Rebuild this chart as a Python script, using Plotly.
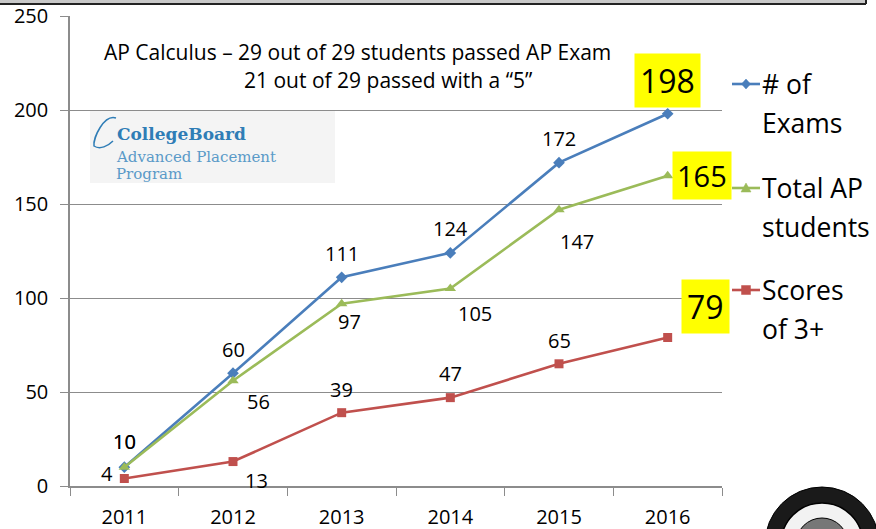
import plotly.graph_objects as go

years = ["2011", "2012", "2013", "2014", "2015", "2016"]
exams = [10, 60, 111, 124, 172, 198]
students = [10, 56, 97, 105, 147, 165]
scores = [4, 13, 39, 47, 65, 79]
series_names = [["# of", "Exams"], ["Total AP", "students"], ["Scores", "of 3+"]]
title_lines = ["AP Calculus \u2013 29 out of 29 students passed AP Exam",
               "21 out of 29 passed with a \u201c5\u201d"]

FONT = "Open Sans"
BLUE, GREEN, RED = "#4A7EBB", "#9BBB59", "#C0504D"
GRID = "#8C8C8C"

# geometry of the plot area in pixels
W, H = 876, 529
L, R, T, B = 70, 722, 16, 486
def px(x):
    return (x - L) / (R - L)
def py(y):
    return (B - y) / (B - T)

fig = go.Figure()
specs = [
    (exams, BLUE, "diamond", 9),
    (students, GREEN, "triangle-up", 10),
    (scores, RED, "square", 9),
]
for i, (vals, col, sym, ms) in enumerate(specs):
    fig.add_trace(go.Scatter(
        x=years, y=vals, name=" ".join(series_names[i]), mode="lines+markers",
        line=dict(color=col, width=2.6),
        marker=dict(symbol=sym, size=ms, color=col),
        showlegend=False, hoverinfo="skip",
    ))

# label offsets (style): (dx, dy) in px, dy positive = up
exam_off = [(0, 26), (0, 24), (0, 24), (0, 24), (0, 24), (0, 33)]
stud_off = [(0, 26), (25, -21), (8, -18), (25, -25), (18, -32), (34, 0)]
score_off = [(-17, 5), (23, -19), (0, 23), (0, 24), (0, 23), (38, 31)]
last_sizes = [32, 29, 32]   # highlighted final-year labels per series

anns = []
for s, (vals, offs) in enumerate([(exams, exam_off), (students, stud_off), (scores, score_off)]):
    for j, (v, (dx, dy)) in enumerate(zip(vals, offs)):
        hl = j == len(vals) - 1
        a = dict(
            x=j, y=v, xref="x", yref="y", text=str(v), showarrow=False,
            xshift=dx, yshift=dy, xanchor="center", yanchor="middle",
            font=dict(family=FONT, size=last_sizes[s] if hl else 20, color="black"),
        )
        if hl:
            a.update(bgcolor="#FFFF00", borderpad=5 if s != 1 else 4)
        anns.append(a)

anns.append(dict(x=px(357), y=py(52), xref="paper", yref="paper", text=title_lines[0],
                 showarrow=False, xanchor="center", yanchor="middle",
                 font=dict(family=FONT, size=21, color="black")))
anns.append(dict(x=px(388), y=py(80), xref="paper", yref="paper", text=title_lines[1],
                 showarrow=False, xanchor="center", yanchor="middle",
                 font=dict(family=FONT, size=21, color="black")))

# manual legend
leg_y = [84, 188, 290]
leg_cols = [BLUE, GREEN, RED]
shapes = []
for k, (yy, col) in enumerate(zip(leg_y, leg_cols)):
    anns.append(dict(x=px(760), y=py(yy), xref="paper", yref="paper", text=series_names[k][0],
                     showarrow=False, xanchor="left", yanchor="middle",
                     font=dict(family=FONT, size=26.5, color="black")))
    anns.append(dict(x=px(760), y=py(yy + 39), xref="paper", yref="paper", text=series_names[k][1],
                     showarrow=False, xanchor="left", yanchor="middle",
                     font=dict(family=FONT, size=26.5, color="black")))
    shapes.append(dict(type="line", xref="paper", yref="paper", x0=px(732), x1=px(760),
                       y0=py(yy), y1=py(yy), line=dict(color=col, width=2.6), layer="above"))
    cx = 746
    if k == 0:
        path = (f"M {px(cx)} {py(yy-5)} L {px(cx+4.5)} {py(yy)} L {px(cx)} {py(yy+5)} "
                f"L {px(cx-4.5)} {py(yy)} Z")
    elif k == 1:
        path = (f"M {px(cx)} {py(yy-5)} L {px(cx+5)} {py(yy+4)} L {px(cx-5)} {py(yy+4)} Z")
    else:
        path = (f"M {px(cx-4.5)} {py(yy-4.5)} L {px(cx+4.5)} {py(yy-4.5)} L {px(cx+4.5)} {py(yy+4.5)} "
                f"L {px(cx-4.5)} {py(yy+4.5)} Z")
    shapes.append(dict(type="path", xref="paper", yref="paper", path=path,
                       fillcolor=col, line=dict(color=col, width=0.5), layer="above"))

# College Board logo approximation
anns.append(dict(x=px(115), y=py(134), xref="paper", yref="paper", text="<b>CollegeBoard</b>",
                 showarrow=False, xanchor="left", yanchor="middle",
                 font=dict(family="DejaVu Serif", size=17, color="#2F7DB6")))
anns.append(dict(x=px(114), y=py(157), xref="paper", yref="paper", text="Advanced Placement",
                 showarrow=False, xanchor="left", yanchor="middle",
                 font=dict(family="DejaVu Serif", size=15, color="#5A9AC8")))
anns.append(dict(x=px(114), y=py(174), xref="paper", yref="paper", text="Program",
                 showarrow=False, xanchor="left", yanchor="middle",
                 font=dict(family="DejaVu Serif", size=15, color="#5A9AC8")))

shapes += [
    # top bar (bottom edge of a frame above the chart)
    dict(type="rect", xref="paper", yref="paper", x0=px(0), x1=px(866), y0=py(0), y1=py(4),
         fillcolor="#C8C8C8", line=dict(width=0), layer="above"),
    dict(type="line", xref="paper", yref="paper", x0=px(0), x1=px(866), y0=py(4), y1=py(4),
         line=dict(color="#222222", width=2), layer="above"),
    dict(type="line", xref="paper", yref="paper", x0=px(866), x1=px(866), y0=py(0), y1=py(4),
         line=dict(color="#222222", width=2), layer="above"),
    # logo background
    dict(type="rect", xref="paper", yref="paper", x0=px(90), x1=px(335), y0=py(111), y1=py(183),
         fillcolor="#F4F4F4", line=dict(width=0), layer="below"),
    # logo swoosh
    dict(type="path", xref="paper", yref="paper",
         path=f"M {px(116)} {py(118)} C {px(104)} {py(114)}, {px(93)} {py(138)}, {px(94)} {py(146)} "
              f"C {px(100)} {py(150)}, {px(108)} {py(146)}, {px(113)} {py(141)}",
         line=dict(color="#2F7DB6", width=1.5), layer="above"),
    # seal
    dict(type="circle", xref="paper", yref="paper", x0=px(765), x1=px(879), y0=py(487), y1=py(601),
         fillcolor="#1A1A1A", line=dict(color="#000000", width=1), layer="above"),
    dict(type="circle", xref="paper", yref="paper", x0=px(781), x1=px(863), y0=py(503), y1=py(585),
         fillcolor="#F2F2F2", line=dict(color="#000000", width=1.5), layer="above"),
    dict(type="circle", xref="paper", yref="paper", x0=px(796), x1=px(848), y0=py(518), y1=py(570),
         fillcolor="#777777", line=dict(color="#000000", width=1), layer="above"),
]

fig.update_layout(
    width=W, height=H,
    margin=dict(l=L, r=W - R, t=T, b=H - B, pad=0),
    paper_bgcolor="white", plot_bgcolor="white",
    font=dict(family=FONT, color="black"),
    showlegend=False,
    annotations=anns,
    shapes=shapes,
    xaxis=dict(type="category", range=[-0.5, 5.5], showgrid=False, zeroline=False,
               showline=True, linecolor=GRID, linewidth=1.5, automargin=False,
               ticks="outside", tickson="boundaries", ticklen=8, tickcolor=GRID,
               tickfont=dict(family=FONT, size=20, color="black"), ticklabelstandoff=12),
    yaxis=dict(range=[0, 250], dtick=50, showgrid=True, gridcolor=GRID, gridwidth=1,
               zeroline=False, showline=True, linecolor=GRID, linewidth=1.5, automargin=False,
               ticks="outside", ticklen=8, tickcolor=GRID,
               tickfont=dict(family=FONT, size=20, color="black"), ticklabelstandoff=8),
)

fig.write_html("out.html", config={"displayModeBar": False},
               post_script="document.body.style.margin='0px';")
